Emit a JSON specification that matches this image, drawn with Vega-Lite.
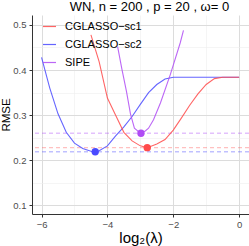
{
  "$schema": "https://vega.github.io/schema/vega-lite/v6.json",
  "width": 217,
  "height": 199,
  "autosize": {"type": "none"},
  "padding": {"left": 32, "top": 15, "right": 0, "bottom": 32},
  "background": "white",
  "title": {"text": "WN, n = 200 , p = 20 , ω= 0", "anchor": "middle", "dx": 9, "offset": 1, "fontSize": 13, "fontWeight": "normal", "font": "Liberation Sans", "color": "#000000"},
  "config": {
    "view": {"stroke": null},
    "font": "Liberation Sans"
  },
  "resolve": {"legend": {"color": "independent"}},
  "datasets": {
    "curves": [
      {"method": "CGLASSO−sc2", "lambda": -6.0, "rmse": 0.428},
      {"method": "CGLASSO−sc2", "lambda": -5.75, "rmse": 0.36},
      {"method": "CGLASSO−sc2", "lambda": -5.5, "rmse": 0.303},
      {"method": "CGLASSO−sc2", "lambda": -5.25, "rmse": 0.262},
      {"method": "CGLASSO−sc2", "lambda": -5.0, "rmse": 0.238},
      {"method": "CGLASSO−sc2", "lambda": -4.75, "rmse": 0.226},
      {"method": "CGLASSO−sc2", "lambda": -4.5, "rmse": 0.22},
      {"method": "CGLASSO−sc2", "lambda": -4.37, "rmse": 0.219},
      {"method": "CGLASSO−sc2", "lambda": -4.25, "rmse": 0.221},
      {"method": "CGLASSO−sc2", "lambda": -4.0, "rmse": 0.232},
      {"method": "CGLASSO−sc2", "lambda": -3.75, "rmse": 0.254},
      {"method": "CGLASSO−sc2", "lambda": -3.5, "rmse": 0.274},
      {"method": "CGLASSO−sc2", "lambda": -3.25, "rmse": 0.297},
      {"method": "CGLASSO−sc2", "lambda": -3.0, "rmse": 0.324},
      {"method": "CGLASSO−sc2", "lambda": -2.75, "rmse": 0.35},
      {"method": "CGLASSO−sc2", "lambda": -2.5, "rmse": 0.368},
      {"method": "CGLASSO−sc2", "lambda": -2.25, "rmse": 0.38},
      {"method": "CGLASSO−sc2", "lambda": -2.0, "rmse": 0.384},
      {"method": "CGLASSO−sc2", "lambda": -1.5, "rmse": 0.384},
      {"method": "CGLASSO−sc2", "lambda": -1.0, "rmse": 0.384},
      {"method": "CGLASSO−sc2", "lambda": -0.5, "rmse": 0.384},
      {"method": "CGLASSO−sc2", "lambda": 0.0, "rmse": 0.384},
      {"method": "CGLASSO−sc1", "lambda": -4.5, "rmse": 0.478},
      {"method": "CGLASSO−sc1", "lambda": -4.25, "rmse": 0.418},
      {"method": "CGLASSO−sc1", "lambda": -4.0, "rmse": 0.338},
      {"method": "CGLASSO−sc1", "lambda": -3.75, "rmse": 0.3},
      {"method": "CGLASSO−sc1", "lambda": -3.5, "rmse": 0.262},
      {"method": "CGLASSO−sc1", "lambda": -3.25, "rmse": 0.243},
      {"method": "CGLASSO−sc1", "lambda": -3.0, "rmse": 0.232},
      {"method": "CGLASSO−sc1", "lambda": -2.79, "rmse": 0.228},
      {"method": "CGLASSO−sc1", "lambda": -2.5, "rmse": 0.236},
      {"method": "CGLASSO−sc1", "lambda": -2.25, "rmse": 0.246},
      {"method": "CGLASSO−sc1", "lambda": -2.0, "rmse": 0.267},
      {"method": "CGLASSO−sc1", "lambda": -1.75, "rmse": 0.294},
      {"method": "CGLASSO−sc1", "lambda": -1.5, "rmse": 0.322},
      {"method": "CGLASSO−sc1", "lambda": -1.25, "rmse": 0.347},
      {"method": "CGLASSO−sc1", "lambda": -1.0, "rmse": 0.368},
      {"method": "CGLASSO−sc1", "lambda": -0.75, "rmse": 0.381},
      {"method": "CGLASSO−sc1", "lambda": -0.5, "rmse": 0.384},
      {"method": "CGLASSO−sc1", "lambda": -0.25, "rmse": 0.384},
      {"method": "CGLASSO−sc1", "lambda": 0.0, "rmse": 0.384},
      {"method": "SIPE", "lambda": -3.69, "rmse": 0.452},
      {"method": "SIPE", "lambda": -3.56, "rmse": 0.402},
      {"method": "SIPE", "lambda": -3.42, "rmse": 0.352},
      {"method": "SIPE", "lambda": -3.3, "rmse": 0.303},
      {"method": "SIPE", "lambda": -3.18, "rmse": 0.271},
      {"method": "SIPE", "lambda": -3.0, "rmse": 0.26},
      {"method": "SIPE", "lambda": -2.85, "rmse": 0.265},
      {"method": "SIPE", "lambda": -2.75, "rmse": 0.271},
      {"method": "SIPE", "lambda": -2.6, "rmse": 0.29},
      {"method": "SIPE", "lambda": -2.39, "rmse": 0.327},
      {"method": "SIPE", "lambda": -2.09, "rmse": 0.39},
      {"method": "SIPE", "lambda": -1.79, "rmse": 0.46},
      {"method": "SIPE", "lambda": -1.69, "rmse": 0.488}
    ],
    "minima": [
      {"method": "CGLASSO−sc1", "lambda": -2.79, "rmse": 0.228},
      {"method": "CGLASSO−sc2", "lambda": -4.37, "rmse": 0.219},
      {"method": "SIPE", "lambda": -2.98, "rmse": 0.26}
    ]
  },
  "encoding": {
    "x": {
      "field": "lambda", "type": "quantitative",
      "scale": {"domain": [-6.29, 0.3], "nice": false, "zero": false},
      "axis": {
        "title": "log₂(λ)",
        "values": [-6, -5, -4, -3, -2, -1, 0],
        "labelExpr": "abs(datum.value) % 2 == 0 ? datum.label : ''",
        "grid": true,
        "gridColor": {"condition": {"test": "abs(datum.value) % 2 == 1", "value": "#efefef"}, "value": "#dcdcdc"},
        "gridWidth": {"condition": {"test": "abs(datum.value) % 2 == 1", "value": 0.6}, "value": 1},
        "tickColor": {"condition": {"test": "abs(datum.value) % 2 == 1", "value": "transparent"}, "value": "#333333"},
        "tickSize": 3,
        "domainColor": "#333333",
        "domainWidth": 1,
        "labelColor": "#4d4d4d",
        "labelFontSize": 9.5,
        "labelPadding": 2,
        "labelFont": "Liberation Sans",
        "titleFont": "Liberation Sans",
        "titleFontSize": 15,
        "titleFontWeight": "normal",
        "titleColor": "#000000",
        "titlePadding": 2
      }
    },
    "y": {
      "field": "rmse", "type": "quantitative",
      "scale": {"domain": [0.081, 0.522], "nice": false, "zero": false},
      "axis": {
        "title": "RMSE",
        "values": [0.1, 0.15, 0.2, 0.25, 0.3, 0.35, 0.4, 0.45, 0.5],
        "format": ".1f",
        "labelExpr": "round(datum.value * 20) % 2 == 0 ? datum.label : ''",
        "grid": true,
        "gridColor": {"condition": {"test": "round(datum.value * 20) % 2 == 1", "value": "#efefef"}, "value": "#dcdcdc"},
        "gridWidth": {"condition": {"test": "round(datum.value * 20) % 2 == 1", "value": 0.6}, "value": 1},
        "tickColor": {"condition": {"test": "round(datum.value * 20) % 2 == 1", "value": "transparent"}, "value": "#333333"},
        "tickSize": 3,
        "domainColor": "#333333",
        "domainWidth": 1,
        "labelColor": "#4d4d4d",
        "labelFontSize": 9.5,
        "labelPadding": 3,
        "labelFont": "Liberation Sans",
        "titleFont": "Liberation Sans",
        "titleFontSize": 11.5,
        "titleFontWeight": "normal",
        "titleColor": "#000000",
        "titlePadding": 1.5
      }
    }
  },
  "layer": [
    {
      "data": {"name": "minima"},
      "mark": {"type": "rule", "strokeDash": [4, 3], "strokeWidth": 1.3, "opacity": 0.35},
      "encoding": {
        "x": null,
        "y": {"field": "rmse", "type": "quantitative"},
        "color": {"field": "method", "type": "nominal", "legend": null}
      }
    },
    {
      "data": {"name": "curves"},
      "mark": {"type": "line", "strokeWidth": 1.1, "opacity": 0.85, "clip": true},
      "encoding": {
        "color": {
          "field": "method", "type": "nominal",
          "scale": {"domain": ["CGLASSO−sc1", "CGLASSO−sc2", "SIPE"], "range": ["#ff4a4a", "#4a4aff", "#b04cf5"]},
          "legend": {
            "title": null,
            "orient": "none",
            "legendX": 10,
            "legendY": 4,
            "padding": 0,
            "symbolType": "stroke",
            "symbolSize": 169,
            "symbolStrokeWidth": 1.2,
            "symbolOpacity": 0.85,
            "labelFont": "Liberation Sans",
            "labelFontSize": 11,
            "labelColor": "#000000",
            "labelOffset": 8,
            "rowPadding": 5
          }
        }
      }
    },
    {
      "data": {"name": "minima"},
      "mark": {"type": "circle", "size": 55, "opacity": 1},
      "encoding": {
        "color": {"field": "method", "type": "nominal", "legend": null}
      }
    }
  ]
}
